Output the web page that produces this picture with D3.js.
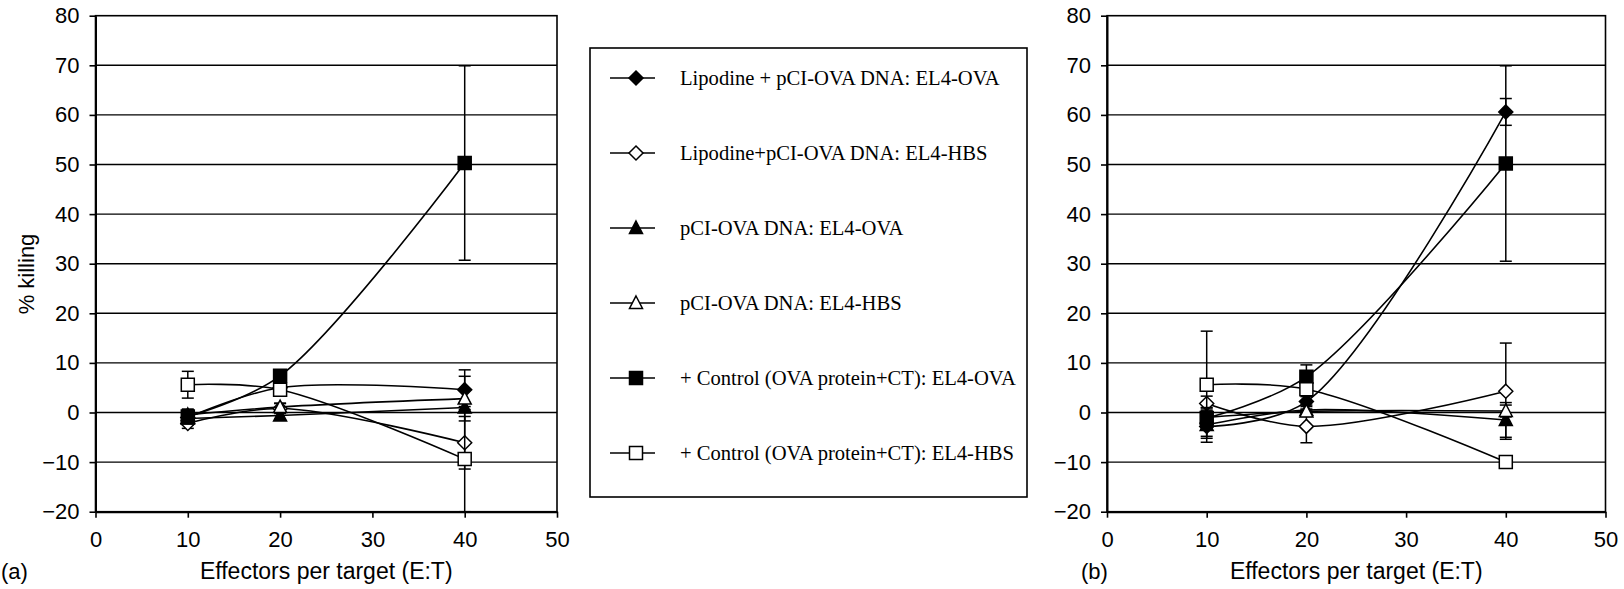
<!DOCTYPE html>
<html>
<head>
<meta charset="UTF-8" />
<script src="https://cdn.jsdelivr.net/npm/d3@7"></script>
<title>% killing</title>
<style>
  body { margin: 0; background: white; }
  svg text { fill: black; }
  .axis text { font-family: "Liberation Sans", Arial, sans-serif; font-size: 22px; }
  .legend text { font-family: "Liberation Serif", "Times New Roman", serif; font-size: 20.6px; }
</style>
</head>
<body>
<svg id="chart" width="1624" height="589"></svg>
<script>
// x values (E:T) shared by all series
const ratios = [10, 20, 40];
const xTicks = [0, 10, 20, 30, 40, 50];
const yTicks = [-20, -10, 0, 10, 20, 30, 40, 50, 60, 70, 80];

const seriesNames = [
  "Lipodine + pCI-OVA DNA: EL4-OVA",
  "Lipodine+pCI-OVA DNA: EL4-HBS",
  "pCI-OVA DNA: EL4-OVA",
  "pCI-OVA DNA: EL4-HBS",
  "+ Control (OVA protein+CT): EL4-OVA",
  "+ Control (OVA protein+CT): EL4-HBS"
];
const seriesShapes = ["diamond", "diamond", "triangle", "triangle", "square", "square"];
const seriesFilled = [true, false, true, false, true, false];

// panel (a) values and error bars, per series, at 10 / 20 / 40
const aLipoOva   = [-1.0, 5.0, 4.6];
const aLipoHbs   = [-2.2, 0.8, -6.1];
const aPciOva    = [-1.2, -0.6, 1.0];
const aPciHbs    = [-0.5, 1.1, 2.8];
const aCtrlOva   = [-0.8, 7.4, 50.3];
const aCtrlHbs   = [5.6, 4.6, -9.4];
const aErrLipoOva = [1.5, 1.0, 4.0];
const aErrLipoHbs = [1.0, 1.0, 5.3];
const aErrPciOva  = [1.0, 0.8, 1.0];
const aErrPciHbs  = [1.0, 0.8, 4.5];
const aErrCtrlOva = [1.5, 1.0, 19.6];
const aErrCtrlHbs = [2.7, 1.0, 10.6];

// panel (b)
const bLipoOva   = [-2.8, 2.2, 60.6];
const bLipoHbs   = [1.8, -2.8, 4.3];
const bPciOva    = [-2.5, 0.5, -1.5];
const bPciHbs    = [-1.0, 0.2, 0.3];
const bCtrlOva   = [-1.1, 7.2, 50.2];
const bCtrlHbs   = [5.6, 4.7, -10.0];
const bErrLipoOva = [2.0, 1.5, 2.7];
const bErrLipoHbs = [1.5, 3.3, 9.7];
const bErrPciOva  = [3.5, 1.0, 3.5];
const bErrPciHbs  = [1.5, 1.0, 1.2];
const bErrCtrlOva = [2.0, 2.4, 19.7];
const bErrCtrlHbs = [10.8, 1.5, 0.5];

const svg = d3.select("#chart");
const sans = "Liberation Sans, Arial, sans-serif";

function markerPath(shape) {
  if (shape === "diamond") return "M0,-7L7,0L0,7L-7,0Z";
  if (shape === "triangle") return "M0,-7L6.5,5.5L-6.5,5.5Z";
  return "M-6.5,-6.5H6.5V6.5H-6.5Z";
}

function drawPanel(x0, x1, values, errors, label, yTitle) {
  const x = d3.scaleLinear().domain([0, 50]).range([x0, x1]);
  const y = d3.scaleLinear().domain([-20, 80]).range([511.7, 15.7]);
  const g = svg.append("g");

  // grid lines
  g.selectAll(".grid")
    .data(yTicks.filter(d => d > -20 && d < 80))
    .enter().append("line")
    .attr("x1", x(0)).attr("x2", x(50))
    .attr("y1", d => y(d)).attr("y2", d => y(d))
    .attr("stroke", "black").attr("stroke-width", 1.4);

  // plot box
  g.append("rect")
    .attr("x", x(0)).attr("y", y(80))
    .attr("width", x(50) - x(0)).attr("height", y(-20) - y(80))
    .attr("fill", "none").attr("stroke", "black").attr("stroke-width", 1.6);

  const yAxis = g.append("g").attr("class", "axis")
    .attr("transform", "translate(" + x(0) + ",0)")
    .call(d3.axisLeft(y).tickValues(yTicks).tickSize(6).tickSizeOuter(0).tickPadding(10));
  const xAxis = g.append("g").attr("class", "axis")
    .attr("transform", "translate(0," + y(-20) + ")")
    .call(d3.axisBottom(x).tickValues(xTicks).tickSize(6).tickSizeOuter(0).tickPadding(14));
  [yAxis, xAxis].forEach(a => {
    a.select(".domain").attr("stroke-width", 2);
    a.selectAll(".tick line").attr("stroke-width", 1.6);
  });

  g.append("text")
    .attr("x", (x(0) + x(50)) / 2).attr("y", 579)
    .attr("text-anchor", "middle")
    .style("font-family", sans).style("font-size", "23px")
    .text("Effectors per target (E:T)");
  g.append("text")
    .attr("x", label === "(a)" ? 1 : 1081).attr("y", 579)
    .style("font-family", sans).style("font-size", "22px")
    .text(label);
  if (yTitle) {
    g.append("text")
      .attr("transform", "translate(34,274) rotate(-90)")
      .attr("text-anchor", "middle")
      .style("font-family", sans).style("font-size", "22px")
      .text(yTitle);
  }

  const line = d3.line().x(d => x(d[0])).y(d => y(d[1])).curve(d3.curveCatmullRom.alpha(0.5));

  values.forEach((vals, i) => {
    const pts = ratios.map((r, j) => [r, vals[j], errors[i][j]]);
    const s = g.append("g");
    // error bars
    pts.forEach(p => {
      const lo = Math.max(p[1] - p[2], -20), hi = p[1] + p[2];
      s.append("line").attr("x1", x(p[0])).attr("x2", x(p[0]))
        .attr("y1", y(lo)).attr("y2", y(hi))
        .attr("stroke", "black").attr("stroke-width", 1.5);
      [lo, hi].forEach(v => s.append("line")
        .attr("x1", x(p[0]) - 6).attr("x2", x(p[0]) + 6)
        .attr("y1", y(v)).attr("y2", y(v))
        .attr("stroke", "black").attr("stroke-width", 1.5));
    });
    s.append("path").datum(pts).attr("d", line)
      .attr("fill", "none").attr("stroke", "black").attr("stroke-width", 1.6);
    s.selectAll(".m").data(pts).enter().append("path")
      .attr("transform", d => "translate(" + x(d[0]) + "," + y(d[1]) + ")")
      .attr("d", markerPath(seriesShapes[i]))
      .attr("fill", seriesFilled[i] ? "black" : "white")
      .attr("stroke", "black").attr("stroke-width", 1.5);
  });
}

drawPanel(95.5, 557, [aLipoOva, aLipoHbs, aPciOva, aPciHbs, aCtrlOva, aCtrlHbs],
  [aErrLipoOva, aErrLipoHbs, aErrPciOva, aErrPciHbs, aErrCtrlOva, aErrCtrlHbs], "(a)", "% killing");
drawPanel(1107, 1605.5, [bLipoOva, bLipoHbs, bPciOva, bPciHbs, bCtrlOva, bCtrlHbs],
  [bErrLipoOva, bErrLipoHbs, bErrPciOva, bErrPciHbs, bErrCtrlOva, bErrCtrlHbs], "(b)", null);

// legend
const lg = svg.append("g").attr("class", "legend");
lg.append("rect").attr("x", 590).attr("y", 48).attr("width", 437).attr("height", 449)
  .attr("fill", "white").attr("stroke", "black").attr("stroke-width", 1.6);
const rowY = d3.scaleLinear().domain([0, 5]).range([78, 453]);
seriesNames.forEach((name, i) => {
  const yy = rowY(i);
  lg.append("line").attr("x1", 610).attr("x2", 655).attr("y1", yy).attr("y2", yy)
    .attr("stroke", "black").attr("stroke-width", 1.6);
  lg.append("path").attr("transform", "translate(636," + yy + ")")
    .attr("d", markerPath(seriesShapes[i]))
    .attr("fill", seriesFilled[i] ? "black" : "white")
    .attr("stroke", "black").attr("stroke-width", 1.5);
  lg.append("text").attr("x", 680).attr("y", yy).attr("dy", "0.35em").text(name);
});
</script>
</body>
</html>
